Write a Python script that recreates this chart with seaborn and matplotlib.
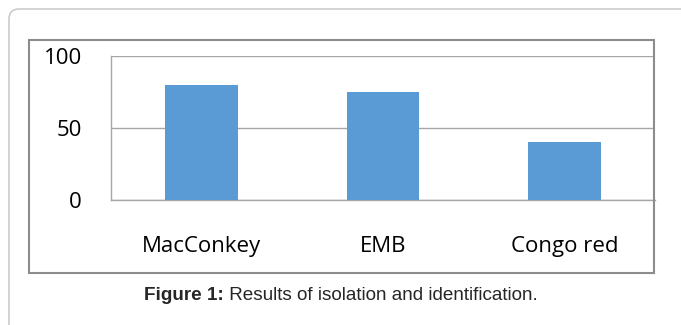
import matplotlib
matplotlib.use("Agg")
import matplotlib.pyplot as plt
import seaborn as sns
import pandas as pd
from matplotlib.patches import Rectangle, FancyBboxPatch
from matplotlib.transforms import IdentityTransform

media = ["MacConkey", "EMB", "Congo red"]
values = [80, 75, 40]
yticks = [0, 50, 100]

df = pd.DataFrame({"medium": media, "value": values})

sns.set_style("white")
plt.rcParams["font.family"] = ["Open Sans", "DejaVu Sans"]

fig = plt.figure(figsize=(6.81, 3.25), dpi=100)
ax = fig.add_axes([0.163, 0.3846, 0.799, 0.4431])

sns.barplot(data=df, x="medium", y="value", color="#5b9bd5", width=0.4,
            saturation=1, linewidth=0, ax=ax, zorder=3)

grid = "#a6a6a6"
ax.set_xlim(-0.5, 2.5)
ax.set_ylim(0, 100)
ax.set_yticks(yticks)
ax.set_yticklabels([str(v) for v in yticks])
ax.set_xticks([-0.5, 0.5, 1.5, 2.5], minor=True)
ax.tick_params(axis="x", which="major", length=0, labelsize=16, pad=26, labelcolor="black")
ax.tick_params(axis="x", which="minor", length=8, color=grid, width=1, direction="out")
ax.tick_params(axis="y", length=8, color=grid, width=1, direction="out", pad=13,
               labelsize=16, labelcolor="black")
ax.yaxis.grid(True, color=grid, linewidth=1, zorder=0)
ax.set_axisbelow(True)
for s in ["top", "right"]:
    ax.spines[s].set_visible(False)
for s in ["left", "bottom"]:
    ax.spines[s].set_color(grid)
    ax.spines[s].set_linewidth(1)
ax.set_xlabel("")
ax.set_ylabel("")

# chart border
fig.patches.append(Rectangle((0.0426, 0.16), 0.9174, 0.717, transform=fig.transFigure,
                             fill=False, edgecolor="#8c8c8c", linewidth=1.5))
# outer rounded frame
fig.patches.append(FancyBboxPatch((9, -40), 720, 356, boxstyle="round,pad=0,rounding_size=10",
                                  transform=IdentityTransform(), fill=False,
                                  edgecolor="#cccccc", linewidth=1.2))

# caption: bold lead-in followed by regular text
cap_font = ["Liberation Sans", "DejaVu Sans"]
bold = fig.text(0, 0.092, "Figure 1:", ha="left", va="center", fontsize=13.6,
                fontweight="bold", family=cap_font)
rest = fig.text(0, 0.092, " Results of isolation and identification.", ha="left",
                va="center", fontsize=13.6, family=cap_font)
r = fig.canvas.get_renderer()
wb = bold.get_window_extent(r).width
wr = rest.get_window_extent(r).width
W = fig.bbox.width
x0 = (W - wb - wr) / 2 / W
bold.set_x(x0)
rest.set_x(x0 + wb / W)

fig.savefig("out.png", dpi=100)
